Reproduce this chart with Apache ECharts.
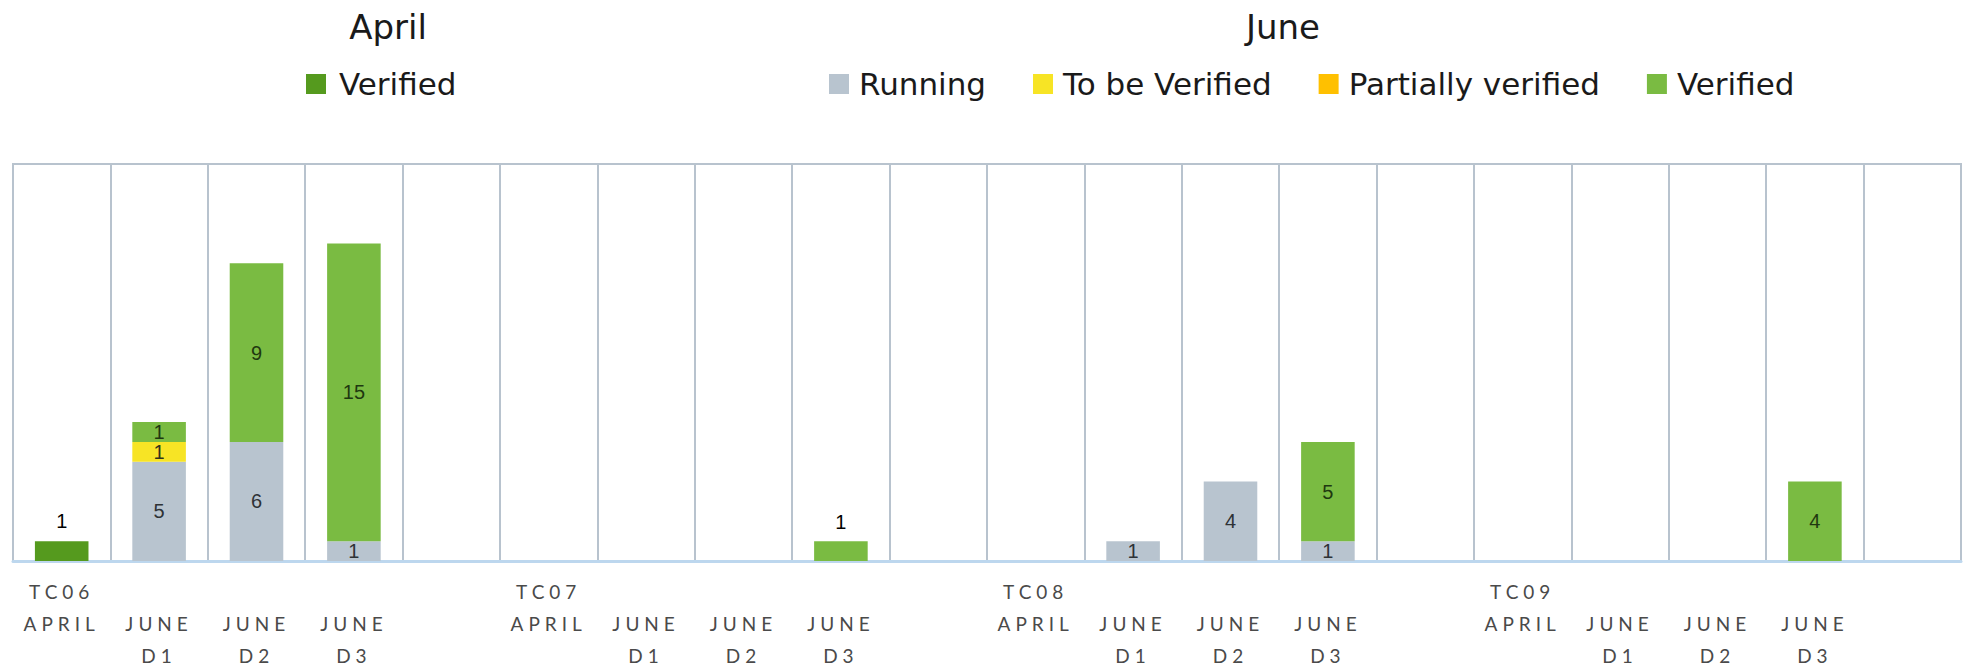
<!DOCTYPE html>
<html>
<head>
<meta charset="utf-8">
<script src="https://cdn.jsdelivr.net/npm/echarts@6/dist/echarts.min.js"></script>
<style>
html,body{margin:0;padding:0;background:#fff;overflow:hidden;}
#chart{width:1964px;height:667px;}
#chart text[style*="Lato"]{letter-spacing:5px;}
</style>
</head>
<body>
<div id="chart"></div>
<script>
// ---- data ----
const testCases = ['TC06', 'TC07', 'TC08', 'TC09'];
const periods = ['APRIL', 'JUNE D1', 'JUNE D2', 'JUNE D3', ''];
const seriesNames = ['Running', 'To be Verified', 'Partially verified', 'Verified'];
const aprilVerified     = [1, null, null, null, null,  null, null, null, null, null,  null, null, null, null, null,  null, null, null, null, null];
const running           = [null, 5, 6, 1, null,  null, null, null, null, null,  null, 1, 4, 1, null,  null, null, null, null, null];
const toBeVerified      = [null, 1, null, null, null,  null, null, null, null, null,  null, null, null, null, null,  null, null, null, null, null];
const partiallyVerified = [null, null, null, null, null,  null, null, null, null, null,  null, null, null, null, null,  null, null, null, null, null];
const juneVerified      = [null, 1, 9, 15, null,  null, null, null, 1, null,  null, null, null, 5, null,  null, null, null, 4, null];

// ---- build ----
const categories = [];
testCases.forEach(tc => periods.forEach(p => categories.push(tc + '|' + p)));

const labelFont = 'Liberation Sans';
const outsideIdx = [8]; // label drawn above the bar for this point

function insideLabel(color) {
  return {show: true, position: 'inside', color: color, fontFamily: labelFont, fontSize: 20, lineHeight: 18,
    formatter: p => (p.value == null ? '' : String(p.value))};
}
function withOutside(arr) {
  return arr.map((v, i) => {
    if (v == null) return v;
    if (outsideIdx.indexOf(i) >= 0) {
      return {value: v, label: {position: 'top', distance: 10, color: '#000'}};
    }
    return v;
  });
}

const chart = echarts.init(document.getElementById('chart'), null, {renderer: 'svg'});
const legendText = {fontFamily: 'DejaVu Sans', fontSize: 31, color: '#1a1a1a', lineHeight: 32};
const option = {
  animation: false,
  backgroundColor: '#fff',
  title: [
    {text: 'April', left: 383, top: 5, textAlign: 'center',
      textStyle: {fontFamily: 'DejaVu Sans', fontSize: 34, fontWeight: 'normal', color: '#1a1a1a'}},
    {text: 'June', left: 1278, top: 5, textAlign: 'center',
      textStyle: {fontFamily: 'DejaVu Sans', fontSize: 34, fontWeight: 'normal', color: '#1a1a1a'}}
  ],
  legend: [
    {data: ['April Verified'], left: 301, top: 63, icon: 'rect', itemWidth: 20, itemHeight: 20,
      formatter: n => (n === 'April Verified' ? 'Verified' : n),
      textStyle: Object.assign({}, legendText, {padding: [0, 0, 0, 8]})},
    {data: seriesNames, left: 824, top: 63, icon: 'rect', itemWidth: 20, itemHeight: 20, itemGap: 47,
      textStyle: Object.assign({}, legendText, {padding: [0, 0, 0, 5]})}
  ],
  grid: {left: 13, right: 3, top: 164, bottom: 106, show: true, borderColor: '#B8C3CE', borderWidth: 2,
    containLabel: false, outerBoundsMode: 'none'},
  xAxis: {
    type: 'category',
    data: categories,
    axisTick: {show: false},
    axisLine: {show: true, lineStyle: {color: '#BDD7EE', width: 3}},
    splitLine: {show: true, interval: 0, lineStyle: {color: '#B8C3CE', width: 2}},
    axisLabel: {
      interval: 0, margin: 14,
      fontFamily: 'Lato', fontSize: 19, lineHeight: 32, color: '#4a4a4a',
      formatter: v => {
        const parts = v.split('|');
        const tc = parts[0], p = parts[1];
        if (!p) return '';
        if (p === 'APRIL') return tc + '\nAPRIL\n ';
        const md = p.split(' ');
        return ' \n' + md[0] + '\n' + md[1];
      }
    }
  },
  yAxis: {type: 'value', min: 0, max: 20, show: false, splitLine: {show: false}},
  series: [
    {name: 'April Verified', type: 'bar', stack: 'all', barWidth: '55%', data: aprilVerified,
      itemStyle: {color: '#559A1E'},
      label: {show: true, position: 'top', distance: 10, color: '#000', fontFamily: labelFont, fontSize: 20}},
    {name: 'Running', type: 'bar', stack: 'all', barWidth: '55%', data: running,
      itemStyle: {color: '#B8C4CF'}, label: insideLabel('#2e3236')},
    {name: 'To be Verified', type: 'bar', stack: 'all', barWidth: '55%', data: toBeVerified,
      itemStyle: {color: '#F7E425'}, label: insideLabel('#33321a')},
    {name: 'Partially verified', type: 'bar', stack: 'all', barWidth: '55%', data: partiallyVerified,
      itemStyle: {color: '#FFC000'}, label: insideLabel('#33321a')},
    {name: 'Verified', type: 'bar', stack: 'all', barWidth: '55%', data: withOutside(juneVerified),
      itemStyle: {color: '#7ABB42'}, label: insideLabel('#1f3810')}
  ]
};
chart.setOption(option);
</script>
</body>
</html>
